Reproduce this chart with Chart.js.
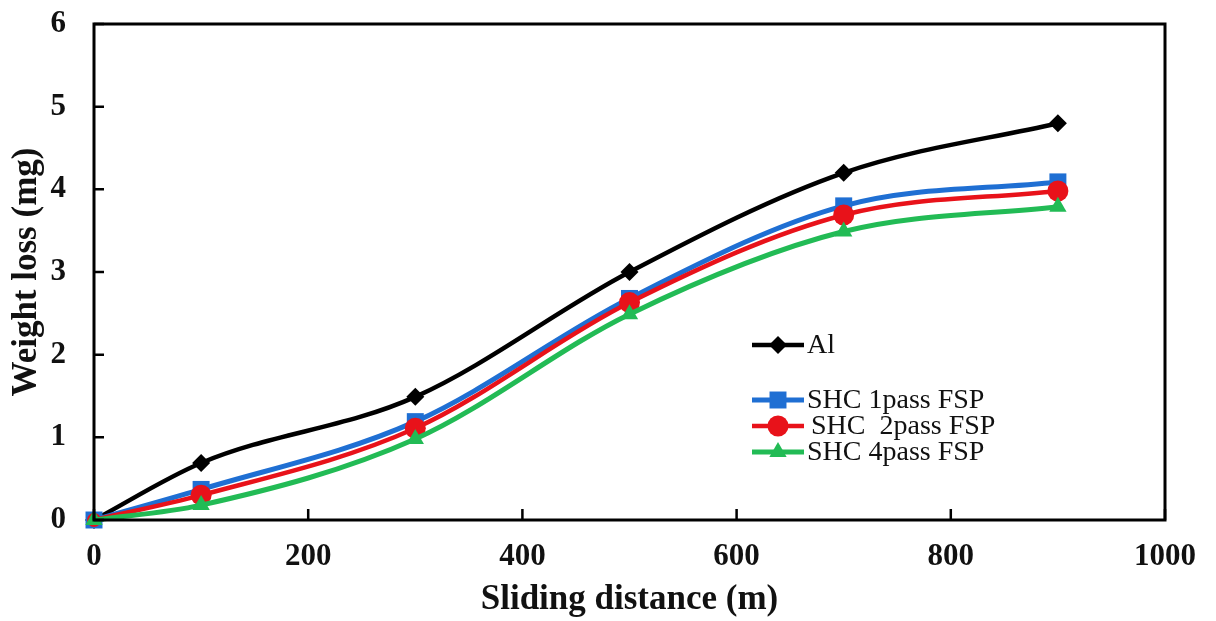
<!DOCTYPE html>
<html><head><meta charset="utf-8">
<script src="https://cdn.jsdelivr.net/npm/chart.js@4/dist/chart.umd.min.js"></script>
<style>html,body{margin:0;padding:0;background:#fff}#wrap{width:1216px;height:621px}</style>
</head><body><div id="wrap"><canvas id="c" width="1216" height="621"></canvas></div>
<script>
const distances = [0, 100, 300, 500, 700, 900];
const seriesNames = ["Al", "SHC 1pass FSP", "SHC  2pass FSP", "SHC 4pass FSP"];
const al   = [0, 0.69, 1.49, 3.0, 4.2, 4.8];
const shc1 = [0, 0.37, 1.19, 2.68, 3.8, 4.09];
const shc2 = [0, 0.30, 1.11, 2.63, 3.69, 3.98];
const shc4 = [0, 0.18, 0.98, 2.49, 3.49, 3.79];
const xTicks = [0, 200, 400, 600, 800, 1000];
const yTicks = [0, 1, 2, 3, 4, 5, 6];

const FONT = "'Liberation Serif','Times New Roman',serif";
const colors = ["#000000", "#1f6fd3", "#e8121a", "#22bb55"];
const styles = ["rectRot", "rect", "circle", "triangle"];
const radii = [9, 12, 10.5, 10];
const widths = [4.5, 5, 4.5, 5];
const vals = [al, shc1, shc2, shc4];

const datasets = vals.map((v, i) => ({
  label: seriesNames[i],
  data: distances.map((d, j) => ({x: d, y: v[j]})),
  borderColor: colors[i],
  backgroundColor: colors[i],
  borderWidth: widths[i],
  pointStyle: styles[i],
  pointRadius: c => (i === 2 && c.dataIndex === 0) ? 7 : radii[i],
  pointBorderWidth: 0,
  tension: 0.4,
  cubicInterpolationMode: 'monotone',
  clip: false,
  order: 3 - i
}));

const frame = {
  id: 'frame',
  afterDatasetsDraw(chart) {
    const {ctx, chartArea: a, scales} = chart;
    ctx.save();
    ctx.strokeStyle = '#000';
    ctx.lineWidth = 3;
    ctx.strokeRect(a.left, a.top, a.right - a.left, a.bottom - a.top);
    ctx.lineWidth = 2.5;
    ctx.beginPath();
    yTicks.forEach(t => { const y = scales.y.getPixelForValue(t); ctx.moveTo(a.left, y); ctx.lineTo(a.left + 10, y); });
    xTicks.forEach(t => { const x = scales.x.getPixelForValue(t); ctx.moveTo(x, a.bottom); ctx.lineTo(x, a.bottom - 11); });
    ctx.stroke();
    // legend
    const legendY = [345, 400, 426, 452];
    const textX = [807, 807, 811, 807];
    ctx.font = "28px " + FONT;
    ctx.textBaseline = 'middle';
    chart.data.datasets.forEach((ds, i) => {
      const y = legendY[i];
      ctx.strokeStyle = ds.borderColor; ctx.lineWidth = ds.borderWidth;
      ctx.beginPath(); ctx.moveTo(752, y); ctx.lineTo(804, y); ctx.stroke();
      ctx.fillStyle = ds.backgroundColor;
      Chart.helpers.drawPoint(ctx, {pointStyle: ds.pointStyle, radius: radii[i], borderWidth: 0}, 778, y);
      ctx.fillStyle = '#111';
      ctx.fillText(ds.label, textX[i], y + 1);
    });
    ctx.restore();
  }
};

new Chart(document.getElementById('c'), {
  type: 'line',
  data: {datasets},
  options: {
    responsive: false,
    animation: false,
    layout: {padding: {top: 24, right: 51, left: 0, bottom: 0}},
    plugins: {legend: {display: false}, tooltip: {enabled: false}},
    scales: {
      x: {
        type: 'linear', min: 0, max: 1000,
        afterBuildTicks: s => { s.ticks = xTicks.map(v => ({value: v})); },
        afterFit: s => { s.height = 101; s.paddingLeft = 0; s.paddingRight = 0; },
        grid: {display: false, drawTicks: false},
        border: {display: false},
        ticks: {padding: 18, color: '#111', font: {family: FONT, size: 31, weight: 'bold'}, callback: v => String(v)},
        title: {display: true, text: 'Sliding distance (m)', color: '#111', font: {family: FONT, size: 35, weight: 'bold'}, padding: {top: 0, bottom: 0}}
      },
      y: {
        min: 0, max: 6,
        afterBuildTicks: s => { s.ticks = yTicks.map(v => ({value: v})); },
        afterFit: s => { s.width = 94; s.paddingTop = 0; s.paddingBottom = 0; },
        grid: {display: false, drawTicks: false},
        border: {display: false},
        ticks: {padding: 28, color: '#111', font: {family: FONT, size: 31, weight: 'bold'}, callback: v => String(v)},
        title: {display: true, text: 'Weight loss (mg)', color: '#111', font: {family: FONT, size: 35, weight: 'bold'}, padding: {top: 6, bottom: 0}}
      }
    }
  },
  plugins: [frame]
});
</script></body></html>
